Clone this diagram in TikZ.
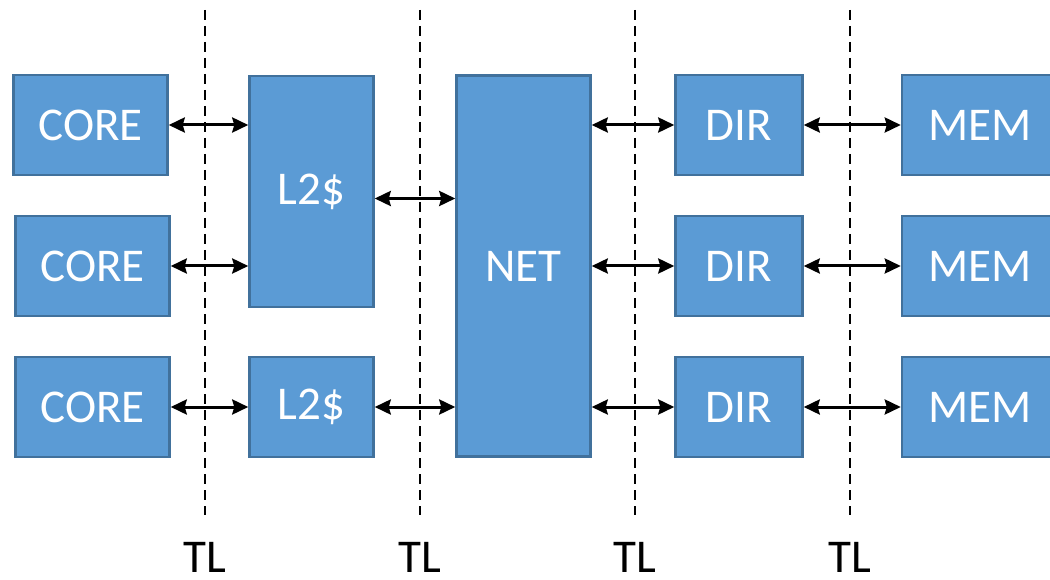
\documentclass[tikz,border=0pt]{standalone}
\usepackage{fontspec}
\setmainfont{Carlito}
\usetikzlibrary{arrows.meta, positioning, calc}
\definecolor{blockfill}{HTML}{5B9BD5}
\definecolor{blockborder}{HTML}{41719C}
\definecolor{linkcol}{HTML}{000000}
\tikzset{
    blockbox/.style 2 args={rectangle, fill=blockfill, draw=blockborder, line width=2.5pt, minimum width=#1, minimum height=#2, inner sep=0pt, text=white, font=\fontsize{47}{50}\selectfont},
    linkarrow/.style={{Stealth[length=16pt, width=15pt, inset=2pt]}-{Stealth[length=16pt, width=15pt, inset=2pt]}, linkcol, line width=3pt},
    tlline/.style={draw=black, dash pattern=on 10pt off 6pt, line width=2.8pt},
    tllabel/.style={font=\fontsize{47}{50}\selectfont, text=black, inner sep=0pt},
}
\begin{document}
\begin{tikzpicture}[x=1pt, y=-1pt]
\useasboundingbox (0,0) rectangle (1050,580);
% timing-link boundaries
\coordinate (tl1top) at (205,10);  \coordinate (tl1bot) at (205,515);
\coordinate (tl2top) at (420,10);  \coordinate (tl2bot) at (420,515);
\coordinate (tl3top) at (635,10);  \coordinate (tl3bot) at (635,515);
\coordinate (tl4top) at (850,10);  \coordinate (tl4bot) at (850,515);
\draw[tlline] (tl1top) -- (tl1bot);
\draw[tlline] (tl2top) -- (tl2bot);
\draw[tlline] (tl3top) -- (tl3bot);
\draw[tlline] (tl4top) -- (tl4bot);
\node[tllabel] (tl1) at (205,557) {TL};
\node[tllabel] (tl2) at (420,557) {TL};
\node[tllabel] (tl3) at (635,557) {TL};
\node[tllabel] (tl4) at (850,557) {TL};
% cores
\node[blockbox={154pt}{100pt}] (core1) at (90.5,125) {CORE};
\node[blockbox={154pt}{100pt}] (core2) at (92.5,266) {CORE};
\node[blockbox={154pt}{100pt}] (core3) at (92.5,407) {CORE};
% caches
\node[blockbox={124pt}{231pt}] (l2a) at (311.5,191.5) {L2\$};
\node[blockbox={124pt}{100pt}] (l2b) at (311.5,407) {L2\$};
% network
\node[blockbox={134pt}{381pt}] (net) at (523.5,266) {NET};
% directories and memories
\node[blockbox={127pt}{100pt}] (dir1) at (739,125) {DIR};
\node[blockbox={127pt}{100pt}] (dir2) at (739,266) {DIR};
\node[blockbox={127pt}{100pt}] (dir3) at (739,407) {DIR};
\node[blockbox={156pt}{100pt}] (mem1) at (980,125) {MEM};
\node[blockbox={156pt}{100pt}] (mem2) at (980,266) {MEM};
\node[blockbox={156pt}{100pt}] (mem3) at (980,407) {MEM};
% links
\draw[linkarrow] (core1.east) -- (core1.east -| l2a.west);
\draw[linkarrow] (core2.east) -- (core2.east -| l2a.west);
\draw[linkarrow] (core3) -- (l2b);
\coordinate (l2aout) at ([yshift=-7pt]l2a.east);
\draw[linkarrow] (l2aout) -- (l2aout -| net.west);
\draw[linkarrow] (l2b.east) -- (l2b.east -| net.west);
\draw[linkarrow] (dir1.west -| net.east) -- (dir1.west);
\draw[linkarrow] (dir2.west -| net.east) -- (dir2.west);
\draw[linkarrow] (dir3.west -| net.east) -- (dir3.west);
\draw[linkarrow] (dir1) -- (mem1);
\draw[linkarrow] (dir2) -- (mem2);
\draw[linkarrow] (dir3) -- (mem3);
\end{tikzpicture}
\end{document}
